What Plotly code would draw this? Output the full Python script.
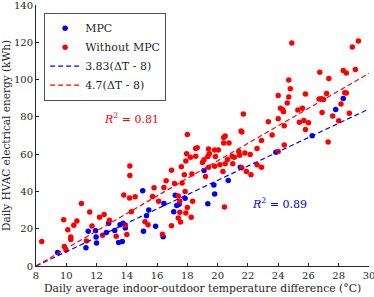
import plotly.graph_objects as go

# ---- data ----
mpc_x = [9.43, 11.3, 11.45, 11.93, 11.97, 12.0, 12.65, 12.8, 13.2, 13.46, 13.55, 13.7,
         13.75, 13.9, 15.05, 15.1, 15.3, 15.45, 15.9, 16.4, 16.45, 17.2, 17.1, 17.45,
         17.3, 17.85, 19.1, 19.75, 19.8, 19.35, 20.7, 21.5, 23.85, 26.25, 27.8, 28.3]
mpc_y = [7.3, 9.8, 18.6, 18.9, 15.5, 12.3, 18.0, 22.9, 19.0, 12.6, 22.2, 13.2,
         22.9, 20.4, 40.4, 18.6, 27.0, 30.0, 21.3, 15.7, 33.6, 38.0, 29.1, 33.2,
         32.5, 36.4, 51.2, 43.5, 38.7, 33.4, 45.9, 53.0, 61.1, 69.9, 84.0, 89.9]

nompc_x = [8.38, 9.83, 9.87, 9.98, 10.1, 10.3, 10.3, 10.5, 10.7, 11.0, 11.33, 11.55,
           11.7, 12.2, 12.4, 12.5, 12.85, 13.3, 13.8, 13.9, 14.0, 14.18, 14.2, 14.2,
           14.3, 14.55, 15.2, 15.4, 16.1, 15.8, 15.7, 16.35, 16.45, 16.6, 16.95, 16.95,
           17.15, 17.6, 17.65, 17.5, 17.4, 17.95, 17.8, 17.85, 18.0, 17.55, 17.4, 17.9,
           17.5, 17.9,
           18.2, 18.55, 18.3, 18.35, 18.25, 19.45, 19.1, 19.0, 19.35, 19.85, 19.8, 20.15,
           20.65, 20.95, 20.5, 21.1, 21.0, 21.45, 21.4, 21.8, 22.15, 21.6, 21.9, 22.2,
           22.6, 22.9, 24.0, 20.45, 20.35, 19.2, 19.4,
           18.0, 18.55, 18.65, 19.4, 19.8, 20.05, 20.4, 20.5, 20.4, 20.75, 21.55, 21.6,
           21.7, 22.6, 22.9, 23.35, 23.6, 24.0, 24.0, 24.15, 24.3, 24.35, 24.4, 24.4,
           24.6, 24.7, 24.7, 24.8, 24.9, 25.3, 25.4, 25.6, 25.7, 25.8, 25.8, 26.0,
           26.75, 26.7, 26.85, 27.0, 26.9, 27.2, 27.35, 27.3, 27.6, 28.0, 28.15, 28.3,
           28.4, 28.5, 28.5, 28.7, 28.9, 29.1, 29.3]
nompc_y = [13.2, 24.8, 10.5, 8.6, 19.5, 15.6, 14.2, 21.8, 24.1, 33.6, 13.4, 29.0,
           21.4, 26.1, 16.5, 27.7, 24.6, 16.0, 38.1, 21.9, 16.9, 36.5, 48.6, 53.6,
           29.1, 37.1, 23.8, 22.1, 34.8, 42.0, 37.3, 17.1, 42.1, 45.7, 51.4, 21.6,
           44.3, 53.2, 44.6, 28.9, 25.7, 60.2, 48.9, 40.0, 31.4, 23.6, 37.5, 28.4,
           34.8, 56.3,
           58.4, 58.9, 49.4, 34.8, 26.2, 60.2, 57.0, 55.5, 58.7, 58.7, 53.5, 54.3,
           57.1, 58.9, 54.8, 58.4, 54.8, 59.4, 61.4, 60.7, 59.8, 52.7, 50.7, 48.9,
           54.3, 53.0, 61.4, 31.6, 50.7, 48.0, 53.0,
           70.6, 63.1, 63.5, 62.8, 62.3, 62.3, 69.0, 69.8, 66.0, 66.0, 72.4, 71.9,
           81.6, 63.0, 67.3, 77.4, 70.3, 91.5, 79.0, 84.6, 83.8, 82.8, 75.3, 64.9,
           87.5, 90.7, 99.8, 95.1, 119.6, 83.7, 77.1, 84.6, 78.1, 92.3, 73.2, 76.9,
           103.9, 89.6, 89.8, 89.4, 82.3, 92.6, 100.6, 66.5, 80.5, 78.0, 86.9, 104.9,
           93.0, 92.8, 103.5, 81.9, 117.5, 105.5, 120.7]

fit_x = [8, 30]
mpc_slope = 3.83
nompc_slope = 4.7
fit_offset = 8

series_names = ["MPC", "Without MPC", "3.83(ΔT - 8)", "4.7(ΔT - 8)"]
r2_labels = ["0.81", "0.89"]

x_ticks = list(range(8, 31, 2))
y_ticks = list(range(0, 141, 20))

FONT = "DejaVu Serif"
AXC = "#262626"

fig = go.Figure()
fig.add_trace(go.Scatter(x=mpc_x, y=mpc_y, mode="markers", name=series_names[0],
                         marker=dict(color="#0000ff", size=5.5, line=dict(width=0))))
fig.add_trace(go.Scatter(x=nompc_x, y=nompc_y, mode="markers", name=series_names[1],
                         marker=dict(color="#ff0000", size=5.5, line=dict(width=0))))
fig.add_trace(go.Scatter(x=fit_x, y=[mpc_slope * (v - fit_offset) for v in fit_x],
                         mode="lines", name=series_names[2],
                         line=dict(color="#0000ff", width=1.2, dash="5px,3px")))
fig.add_trace(go.Scatter(x=fit_x, y=[nompc_slope * (v - fit_offset) for v in fit_x],
                         mode="lines", name=series_names[3],
                         line=dict(color="#ff0000", width=1.2, dash="5px,3px")))

fig.add_annotation(x=14.3, y=79, text="<i>R</i><sup>2</sup> = " + r2_labels[0],
                   showarrow=False, font=dict(family=FONT, size=11, color="#ff0000"))
fig.add_annotation(x=24.1, y=33.5, text="<i>R</i><sup>2</sup> = " + r2_labels[1],
                   showarrow=False, font=dict(family=FONT, size=11, color="#0000ff"))

fig.update_layout(
    width=374, height=297,
    margin=dict(l=36, r=5, t=5, b=31),
    plot_bgcolor="white", paper_bgcolor="white",
    font=dict(family=FONT, size=10, color=AXC),
    legend=dict(x=0.025, y=0.97, xanchor="left", yanchor="top",
                bgcolor="white", bordercolor=AXC, borderwidth=0.8,
                font=dict(family=FONT, size=11, color=AXC),
                tracegroupgap=0, itemwidth=30),
    xaxis=dict(range=[8, 30], tickvals=x_ticks, ticks="inside", ticklen=3,
               tickcolor=AXC, showline=True, linecolor=AXC, linewidth=1,
               showgrid=False, zeroline=False, automargin=False,
               ticklabeloverflow="allow",
               tickfont=dict(size=10),
               title=dict(text="Daily average indoor-outdoor temperature difference (°C)",
                          font=dict(size=10.8), standoff=4)),
    yaxis=dict(range=[0, 140.05], tickvals=y_ticks, ticks="inside", ticklen=3,
               tickcolor=AXC, showline=True, linecolor=AXC, linewidth=1,
               showgrid=False, zeroline=False, automargin=False,
               ticklabeloverflow="allow",
               tickfont=dict(size=10),
               title=dict(text="Daily HVAC electrical energy (kWh)",
                          font=dict(size=10.5), standoff=2)),
)

fig.write_html("out.html", config={"displayModeBar": False},
               post_script="document.body.style.margin='0px';")
